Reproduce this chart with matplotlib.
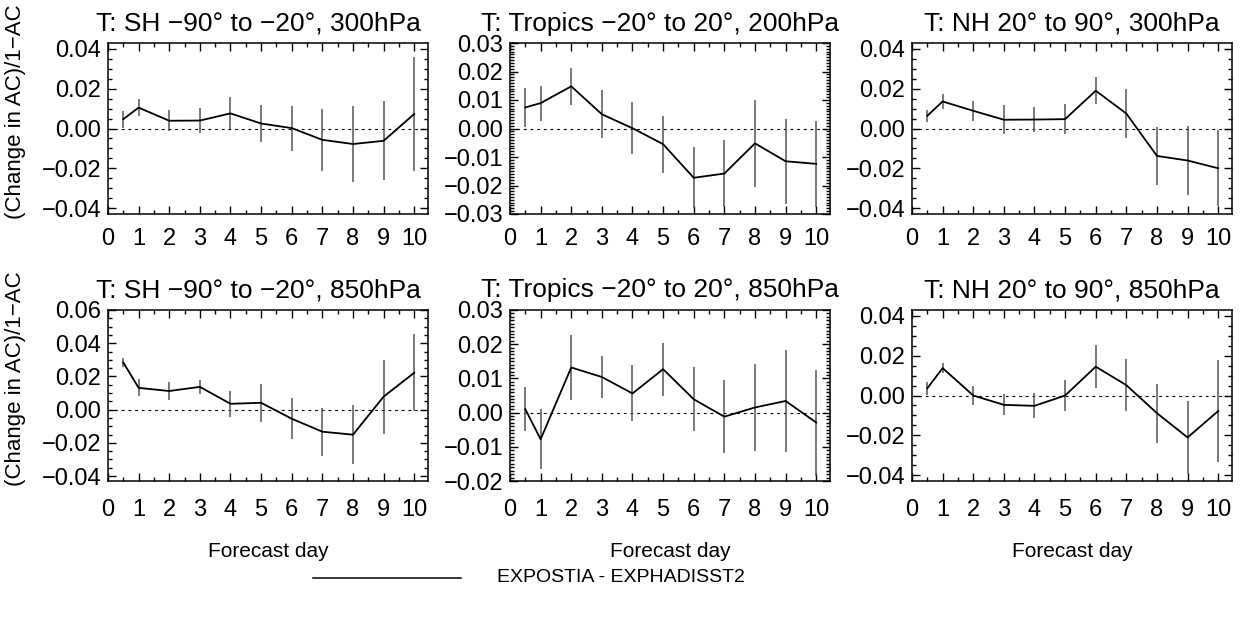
"""
Six-panel forecast-day plot of temperature anomaly-correlation change.
Output: out.png
"""
import matplotlib
matplotlib.use("Agg")
import matplotlib.pyplot as plt
from matplotlib.ticker import MultipleLocator, FuncFormatter

plt.rcParams["font.family"] = ["Liberation Sans", "DejaVu Sans"]

days = [0.5, 1, 2, 3, 4, 5, 6, 7, 8, 9, 10]

titles = [
    "T: SH \u221290\u00b0 to \u221220\u00b0, 300hPa",
    "T: Tropics \u221220\u00b0 to 20\u00b0, 200hPa",
    "T: NH 20\u00b0 to 90\u00b0, 300hPa",
    "T: SH \u221290\u00b0 to \u221220\u00b0, 850hPa",
    "T: Tropics \u221220\u00b0 to 20\u00b0, 850hPa",
    "T: NH 20\u00b0 to 90\u00b0, 850hPa",
]

# mean change and error-bar half widths
sh300 = [0.0047, 0.0105, 0.0039, 0.0040, 0.0076, 0.0025, 0.0002, -0.0057, -0.0078, -0.0062, 0.0073]
sh300_err = [0.0042, 0.0042, 0.0053, 0.0062, 0.0080, 0.0092, 0.0113, 0.0157, 0.0190, 0.0198, 0.0285]

tr200 = [0.0074, 0.0089, 0.0148, 0.0050, 0.0001, -0.0055, -0.0173, -0.0158, -0.0052, -0.0115, -0.0124]
tr200_err = [0.0068, 0.0061, 0.0065, 0.0085, 0.0092, 0.0100, 0.0107, 0.0117, 0.0153, 0.0149, 0.0152]

nh300 = [0.0064, 0.0136, 0.0089, 0.0044, 0.0045, 0.0047, 0.0190, 0.0075, -0.0138, -0.0161, -0.0200]
nh300_err = [0.0031, 0.0038, 0.0049, 0.0072, 0.0062, 0.0074, 0.0069, 0.0122, 0.0147, 0.0175, 0.0190]

sh850 = [0.0284, 0.0131, 0.0112, 0.0137, 0.0035, 0.0041, -0.0055, -0.0133, -0.0151, 0.0078, 0.0222]
sh850_err = [0.0028, 0.0051, 0.0054, 0.0043, 0.0080, 0.0115, 0.0122, 0.0145, 0.0176, 0.0222, 0.0232]

tr850 = [0.0010, -0.0078, 0.0132, 0.0104, 0.0056, 0.0127, 0.0039, -0.0012, 0.0015, 0.0034, -0.0029]
tr850_err = [0.0064, 0.0088, 0.0094, 0.0062, 0.0082, 0.0077, 0.0093, 0.0107, 0.0128, 0.0148, 0.0155]

nh850 = [0.0036, 0.0138, 0.0000, -0.0047, -0.0052, 0.0000, 0.0145, 0.0052, -0.0089, -0.0211, -0.0078]
nh850_err = [0.0034, 0.0027, 0.0047, 0.0053, 0.0063, 0.0078, 0.0109, 0.0132, 0.0148, 0.0185, 0.0255]

series = [sh300, tr200, nh300, sh850, tr850, nh850]
errors = [sh300_err, tr200_err, nh300_err, sh850_err, tr850_err, nh850_err]
ylims = [(-0.043, 0.043), (-0.03, 0.03), (-0.043, 0.043),
         (-0.043, 0.06), (-0.02, 0.03), (-0.043, 0.043)]
ymajor = [0.02, 0.01, 0.02, 0.02, 0.01, 0.02]
yminor = [0.005, 0.001, 0.005, 0.005, 0.001, 0.005]

legend_label = "EXPOSTIA - EXPHADISST2"


def fmt2(v, pos):
    s = "%.2f" % v
    if s == "-0.00":
        s = "0.00"
    return s.replace("-", "\u2212")


def main():
    W, H = 1244, 618
    fig = plt.figure(figsize=(W / 100, H / 100), dpi=100)
    lefts = [108, 510, 912]
    tops = [43, 310]
    aw, ah = 320, 171
    title_x = [0.47, 0.47, 0.5]

    for i in range(6):
        r, c = divmod(i, 3)
        ax = fig.add_axes([lefts[c] / W, 1 - (tops[r] + ah) / H, aw / W, ah / H])
        ax.axhline(0, color="black", lw=0.8, ls=(0, (2.5, 3.5)))
        ax.errorbar(days, series[i], yerr=errors[i], fmt="none",
                    ecolor="#555555", elinewidth=1.1, capsize=0)
        ax.plot(days, series[i], color="black", lw=1.3)
        ax.set_xlim(0, 10.45)
        ax.set_ylim(*ylims[i])
        ax.xaxis.set_major_locator(MultipleLocator(1))
        ax.xaxis.set_minor_locator(MultipleLocator(0.5))
        ax.yaxis.set_major_locator(MultipleLocator(ymajor[i]))
        ax.yaxis.set_minor_locator(MultipleLocator(yminor[i]))
        ax.yaxis.set_major_formatter(FuncFormatter(fmt2))
        ax.tick_params(which="both", direction="in", top=True, right=True,
                       labelsize=17, width=1)
        ax.tick_params(which="major", length=6)
        ax.tick_params(which="minor", length=3)
        ax.tick_params(axis="y", pad=5)
        ax.tick_params(axis="x", pad=10 if r == 0 else 13)
        for s in ax.spines.values():
            s.set_linewidth(1.1)
        ax.set_title(titles[i], fontsize=19, pad=9, x=title_x[c])
        if c == 0:
            ax.set_ylabel("(Change in AC)/1\u2212AC", fontsize=16)
            ax.yaxis.set_label_coords(-0.255, 0.6)
        if r == 1:
            ax.set_xlabel("Forecast day", fontsize=15, labelpad=15)

    # legend line and text at the bottom
    fig.lines.append(plt.Line2D([313 / W, 461 / W], [1 - 578 / H, 1 - 578 / H],
                                transform=fig.transFigure, color="black", lw=1.1))
    fig.text(497 / W, 1 - 578 / H, legend_label, fontsize=14, va="center", ha="left")

    fig.savefig("out.png", dpi=100)
    plt.close()
    print("Saved out.png")


if __name__ == "__main__":
    main()
